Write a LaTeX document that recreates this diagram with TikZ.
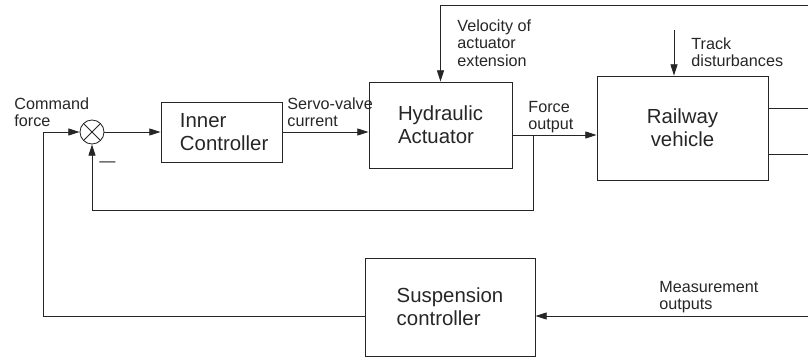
\documentclass[tikz,border=0pt]{standalone}
\usepackage{fontspec}
\setmainfont{Liberation Sans}
\usetikzlibrary{positioning, arrows.meta}

\begin{document}
\begin{tikzpicture}[
            x=0.025cm, y=-0.025cm,
            line width=0.6pt,
            color=black!85,
            >={Triangle[length=8pt, width=5pt]},
            block/.style={rectangle, draw, line width=0.6pt, align=left, font=\fontsize{14.5}{16.5}\selectfont},
            lbl/.style={anchor=north west, inner sep=0pt, align=left, font=\fontsize{11.5}{12.4}\selectfont},
            sumjunc/.style={circle, draw, minimum size=0.6cm, inner sep=0pt,
                path picture={\draw (path picture bounding box.north west) -- (path picture bounding box.south east)
                                    (path picture bounding box.north east) -- (path picture bounding box.south west);}},
            arrow/.style={->}
        ]
        \useasboundingbox (0,0) rectangle (808,361);

        % blocks
        \node[sumjunc] (sum) at (92,132) {};
        \node[block, minimum width=3.025cm, minimum height=1.5cm, text width=2.075cm] (inner) at (221.5,132) {Inner\\Controller};
        \node[block, minimum width=3.575cm, minimum height=2.15cm] (hyd) at (440.5,125) {Hydraulic\\Actuator};
        \node[block, align=center, minimum width=4.275cm, minimum height=2.6cm] (rail) at (682.5,128) {Railway\\vehicle};
        \node[block, minimum width=4.25cm, minimum height=2.45cm] (susp) at (450,307) {Suspension\\controller};

        % labels
        \node[lbl] (cmdlbl) at (14,97) {Command\\force};
        \node[lbl] (servolbl) at (287,97) {Servo-valve\\current};
        \node[lbl] (vellbl) at (457,19) {Velocity of\\actuator\\extension};
        \node[lbl] (forcelbl) at (528,101) {Force\\output};
        \node[lbl] (tracklbl) at (691,37) {Track\\disturbances};
        \node[lbl] (measlbl) at (659,281) {Measurement\\outputs};
        \node[lbl] (minus) at (99,161) {---};

        % free ends and corners
        \coordinate (vel) at (808,5);
        \coordinate (track) at (674,30);
        \coordinate (out1) at (808,108);
        \coordinate (out2) at (808,154);
        \coordinate (meas) at (808,316);
        \coordinate (cmdcorner) at (43,316);
        \coordinate (fo) at (533,135);
        \coordinate (fbcorner) at (92,210);

        % forward path
        \draw[arrow] (sum) -- (inner);
        \draw[arrow] (inner.east) -- (inner.east -| hyd.west);
        \draw (hyd.east |- fo) -- (fo);
        \draw[arrow] (fo) -- (fo -| rail.west);
        \draw (out1 -| rail.east) -- (out1);
        \draw (out2 -| rail.east) -- (out2);

        % inputs from above
        \draw[arrow] (vel) -| (hyd.north);
        \draw[arrow] (track) -- (track |- rail.north);

        % feedback loops
        \draw[arrow] (fo) |- (fbcorner) -- (sum.south);
        \draw[arrow] (meas) -- (meas -| susp.east);
        \draw[arrow] (meas -| susp.west) -- (cmdcorner) |- (sum.west);
        \end{tikzpicture}
\end{document}
